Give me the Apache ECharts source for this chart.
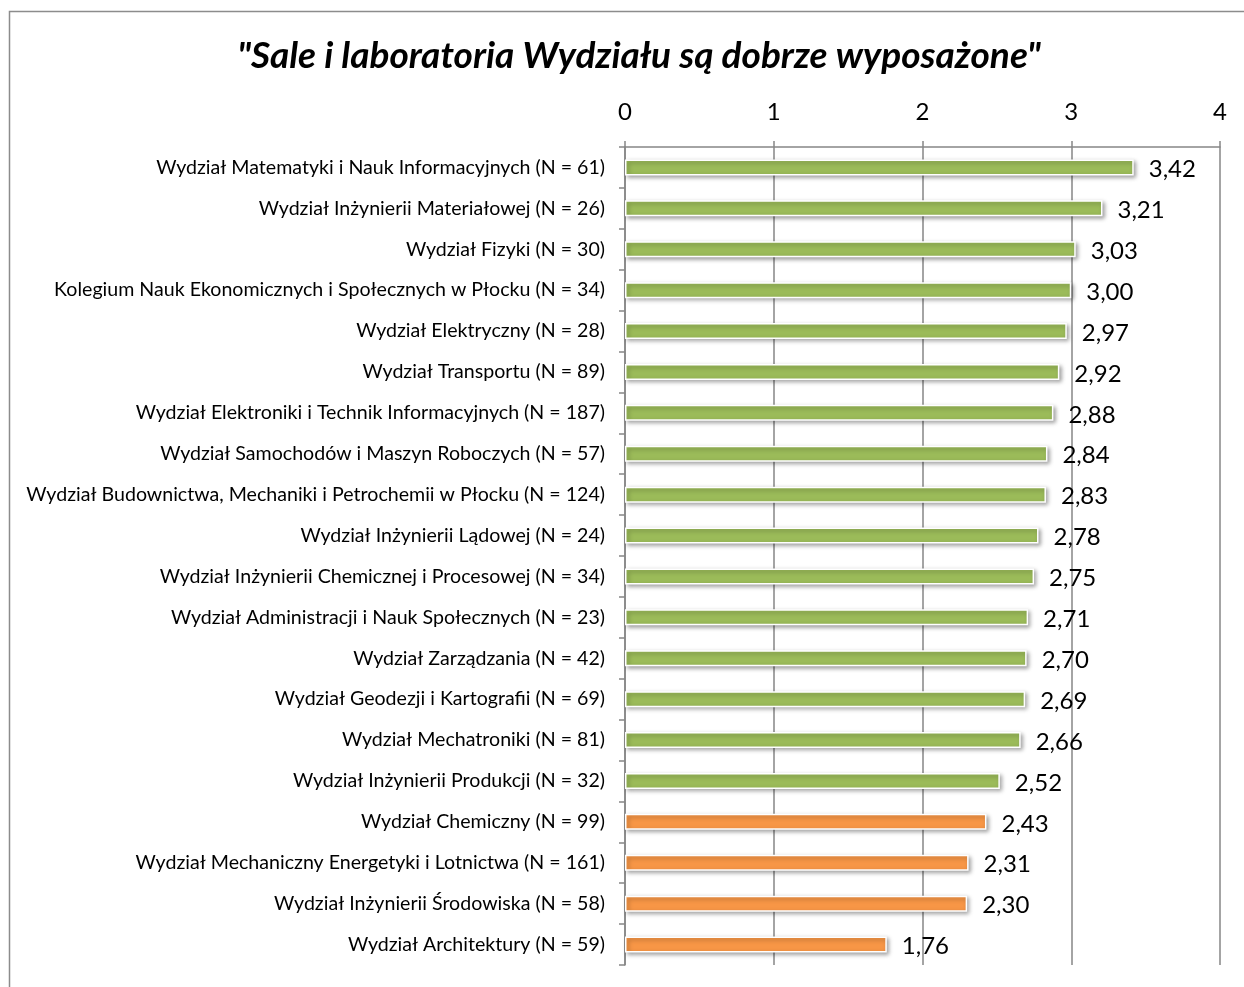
<!DOCTYPE html>
<html><head><meta charset="utf-8">
<script src="https://cdn.jsdelivr.net/npm/echarts@6/dist/echarts.min.js"></script>
<style>html,body{margin:0;padding:0;background:#fff}#c{width:1244px;height:987px}</style>
</head><body><div id="c"></div>
<script>
const titleText = '"Sale i laboratoria Wydziału są dobrze wyposażone"';
const categories = [
 'Wydział Matematyki i Nauk Informacyjnych (N = 61)',
 'Wydział Inżynierii Materiałowej (N = 26)',
 'Wydział Fizyki (N = 30)',
 'Kolegium Nauk Ekonomicznych i Społecznych w Płocku (N = 34)',
 'Wydział Elektryczny (N = 28)',
 'Wydział Transportu (N = 89)',
 'Wydział Elektroniki i Technik Informacyjnych (N = 187)',
 'Wydział Samochodów i Maszyn Roboczych (N = 57)',
 'Wydział Budownictwa, Mechaniki i Petrochemii w Płocku (N = 124)',
 'Wydział Inżynierii Lądowej (N = 24)',
 'Wydział Inżynierii Chemicznej i Procesowej (N = 34)',
 'Wydział Administracji i Nauk Społecznych (N = 23)',
 'Wydział Zarządzania (N = 42)',
 'Wydział Geodezji i Kartografii (N = 69)',
 'Wydział Mechatroniki (N = 81)',
 'Wydział Inżynierii Produkcji (N = 32)',
 'Wydział Chemiczny (N = 99)',
 'Wydział Mechaniczny Energetyki i Lotnictwa (N = 161)',
 'Wydział Inżynierii Środowiska (N = 58)',
 'Wydział Architektury (N = 59)'
];
const values = [3.42,3.21,3.03,3.00,2.97,2.92,2.88,2.84,2.83,2.78,2.75,2.71,2.70,2.69,2.66,2.52,2.43,2.31,2.30,1.76];
const groups = ['g','g','g','g','g','g','g','g','g','g','g','g','g','g','g','g','o','o','o','o'];
const xTicks = [0,1,2,3,4];
const groupColors = {g:'#9BBB59', o:'#F79646'};

const chart = echarts.init(document.getElementById('c'));
const FONT = 'Lato';
chart.setOption({
  animation:false,
  backgroundColor:'#fff',
  graphic:[{type:'rect',shape:{x:9.5,y:11.5,width:1250,height:1000},style:{fill:'none',stroke:'#8c8c8c',lineWidth:1.5},z:-1}],
  title:{text:titleText,left:634,top:33,textAlign:'center',
    textStyle:{fontFamily:FONT,fontSize:37,fontWeight:'bold',fontStyle:'italic',color:'#000'}},
  grid:{left:625,right:24,top:147,bottom:22,containLabel:false},
  xAxis:{type:'value',position:'top',min:xTicks[0],max:xTicks[xTicks.length-1],interval:1,
    axisLine:{show:true,lineStyle:{color:'#868686',width:1.5}},
    axisTick:{show:true,length:6,lineStyle:{color:'#868686',width:1.5}},
    splitLine:{show:true,lineStyle:{color:'#868686',width:1.5}},
    axisLabel:{fontFamily:FONT,fontSize:24,color:'#000',margin:23}},
  yAxis:{type:'category',inverse:true,data:categories,
    axisLine:{show:true,lineStyle:{color:'#868686',width:1.5}},
    axisTick:{show:true,length:6,lineStyle:{color:'#868686',width:1.5}},
    axisLabel:{fontFamily:FONT,fontSize:19.6,color:'#000',margin:20,padding:[3,0,0,0]}},
  series:[{type:'bar',barWidth:16,
    data:values.map((v,i)=>({value:v,itemStyle:{color:groupColors[groups[i]]}})),
    itemStyle:{borderColor:'#fff',borderWidth:1.5,shadowColor:'rgba(0,0,0,0.35)',shadowBlur:4,shadowOffsetX:2,shadowOffsetY:2},
    label:{show:true,position:'right',distance:15,offset:[0,2],fontFamily:FONT,fontSize:24,color:'#000',
      formatter:p=>p.value.toFixed(2).replace('.',',')}
  }]
});
</script></body></html>
